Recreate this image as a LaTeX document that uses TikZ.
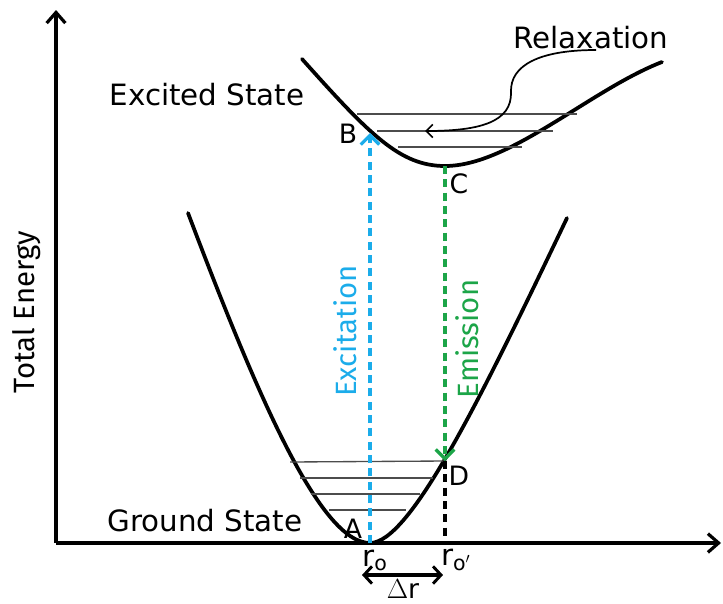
\documentclass[tikz,border=0pt]{standalone}
\usepackage{fontspec}
\setmainfont{DejaVu Sans}
\newfontfamily\narrowfont{Fira Sans}
\usetikzlibrary{arrows.meta}
\definecolor{excblue}{RGB}{27,172,234}
\definecolor{emigreen}{RGB}{28,165,72}

\begin{document}
\begin{tikzpicture}[
      x=0.75pt, y=-0.75pt,
      axis/.style={line width=2.6pt, -{Straight Barb[length=8pt, width=14pt, line width=2.4pt]}},
      curve/.style={line width=2.8pt, line join=round, line cap=round},
      level/.style={line width=1pt, black!70},
      trans/.style={line width=2.6pt, dash pattern=on 6pt off 4pt,
                    -{Straight Barb[length=7pt, width=14pt, line width=2.4pt]}},
      lbl/.style={font=\fontsize{20}{20}\selectfont},
      state/.style={font=\fontsize{22}{22}\selectfont},
      side/.style={font=\narrowfont\fontsize{22}{22}\selectfont, rotate=90},
      barbs/.style={line width=2.4pt, {Straight Barb[length=6pt, width=13pt, line width=2.2pt]}-{Straight Barb[length=6pt, width=13pt, line width=2.2pt]}},
    ]
    \useasboundingbox (0,0) rectangle (723,603);

    % axes
    \coordinate (O) at (56,543);
    \coordinate (ytop) at (56,10);
    \coordinate (xend) at (721,543);
    \draw[axis] (O) -- (ytop);
    \draw[axis] (O) -- (xend);
    \node[side] (energy) at (27,312) {Total Energy};

    % points on the curves
    \coordinate (A) at (370,543);
    \coordinate (B) at (370,133);
    \coordinate (C) at (445,166);
    \coordinate (D) at (445,461);
    \coordinate (Dfoot) at (445,543);

    % ground state curve and levels
    \draw[curve] (188,213) .. controls (257,395) and (320,543) .. (A)
      .. controls (410,543) and (480,400) .. (567,218);
    \draw[level] (290,462) -- (D);
    \draw[level] (300,478) -- (433,478);
    \draw[level] (311,494) -- (420,494);
    \draw[level] (329,510) -- (406,510);

    % excited state curve and levels
    \draw[curve] (302,59) .. controls (370,135) and (400,166) .. (C)
      .. controls (510,166) and (590,90) .. (662,62);
    \draw[level] (357,114) -- (577,114);
    \draw[level] (377,131) -- (553,131);
    \draw[level] (398,147) -- (522,147);

    \node[state] (excited) at (207,95) {Excited State};
    \node[state] (ground) at (205,521) {Ground State};

    % transitions
    \draw[trans, excblue] (A) -- (B);
    \draw[trans, emigreen] (C) -- (D);
    \draw[line width=2.6pt, dash pattern=on 6pt off 4pt] (D) -- (Dfoot);
    \node[side, excblue] (exc) at (345,331) {Excitation};
    \node[side, emigreen] (emi) at (467,339) {Emission};

    \node[lbl] (labA) at (353,529) {A};
    \node[lbl] (labB) at (348,134) {B};
    \node[lbl] (labC) at (459,184) {C};
    \node[lbl] (labD) at (459,476) {D};

    % relaxation
    \node[state] (relax) at (591,38) {Relaxation};
    \coordinate (relstart) at (596,50);
    \coordinate (relend) at (425,131);
    \draw[line width=1.3pt, -{Straight Barb[length=5pt, width=10pt, line width=1.2pt]}]
      (relstart) .. controls (540,50) and (510,65) .. (511,92)
      .. controls (512,122) and (480,131) .. (relend);

    % bond lengths
    \node[state] (r0) at (375,560) {r\textsubscript{o}};
    \node[state] (r1) at (456,560) {r\textsubscript{o$'$}};
    \coordinate (dl) at (362,575);
    \coordinate (dr) at (443,575);
    \draw[barbs] (dl) -- (dr);
    \node[lbl, inner sep=0pt] (delta) at (403,589) {$\Delta$r};
  \end{tikzpicture}
\end{document}
